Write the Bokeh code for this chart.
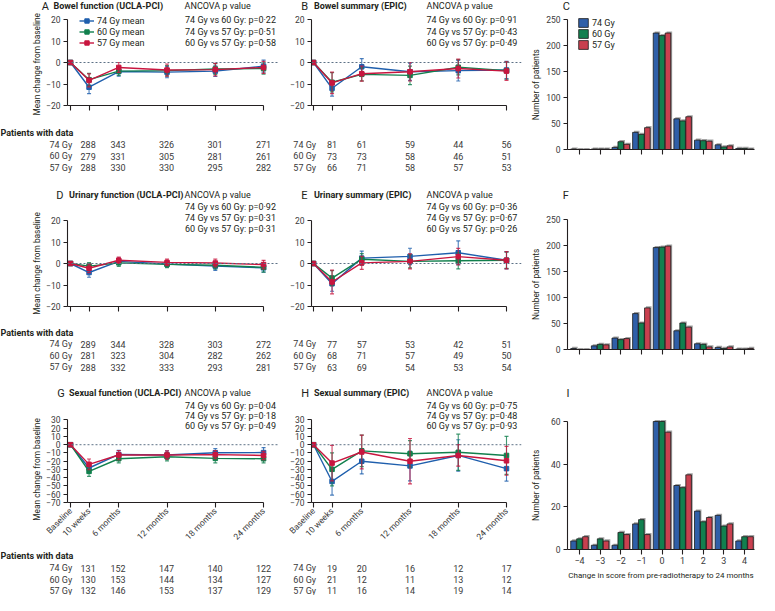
import math
from bokeh.plotting import figure
from bokeh.models import Label, Span, FixedTicker, Legend, LegendItem, Range1d, ColumnDataSource
from bokeh.layouts import row, column
from bokeh.embed import file_html
from bokeh.resources import INLINE
from bokeh.transform import dodge

# ------------------------------------------------------------------ data
weeks = [0, 10, 26, 52, 78, 104]
week_labels = ["Baseline", "10 weeks", "6 months", "12 months", "18 months", "24 months"]
dose_labels = ["74 Gy", "60 Gy", "57 Gy"]

# A  Bowel function (UCLA-PCI)
bowel_func_74 = [0, -11.5, -4.2, -4.5, -4.0, -1.7]
bowel_func_60 = [0, -8.0, -4.0, -3.8, -3.0, -2.8]
bowel_func_57 = [0, -8.3, -2.3, -3.5, -3.3, -2.3]
bowel_func_err_74 = [0, 3.0, 2.2, 2.6, 2.5, 2.8]
bowel_func_err_60 = [0, 2.9, 2.0, 2.4, 2.5, 2.6]
bowel_func_err_57 = [0, 3.0, 2.3, 2.8, 2.9, 2.8]
bowel_func_n_74 = [288, 343, 326, 301, 271]
bowel_func_n_60 = [279, 331, 305, 281, 261]
bowel_func_n_57 = [288, 330, 330, 295, 282]
bowel_func_p = ["0·22", "0·51", "0·58"]

# B  Bowel summary (EPIC)
bowel_sum_74 = [0, -12.0, -2.0, -4.3, -3.8, -3.5]
bowel_sum_60 = [0, -9.2, -5.5, -6.0, -2.2, -3.8]
bowel_sum_57 = [0, -9.5, -5.2, -4.3, -2.8, -4.0]
bowel_sum_err_74 = [0, 3.6, 3.8, 4.0, 4.8, 4.0]
bowel_sum_err_60 = [0, 4.5, 3.0, 4.3, 3.6, 4.0]
bowel_sum_err_57 = [0, 5.0, 3.5, 4.3, 4.4, 4.3]
bowel_sum_n_74 = [81, 61, 59, 44, 56]
bowel_sum_n_60 = [73, 73, 58, 46, 51]
bowel_sum_n_57 = [66, 71, 58, 57, 53]
bowel_sum_p = ["0·91", "0·43", "0·49"]

# D  Urinary function (UCLA-PCI)
urin_func_74 = [0, -4.2, 1.0, -0.2, -1.2, -2.0]
urin_func_60 = [0, -1.2, 0.3, -0.4, -0.8, -1.8]
urin_func_57 = [0, -2.2, 1.5, 0.5, 0.2, -0.5]
urin_func_err_74 = [0, 2.2, 1.5, 1.5, 2.0, 2.0]
urin_func_err_60 = [0, 1.6, 1.6, 1.5, 1.8, 2.2]
urin_func_err_57 = [0, 2.0, 1.5, 1.5, 1.8, 2.0]
urin_func_n_74 = [289, 344, 328, 303, 272]
urin_func_n_60 = [281, 323, 304, 282, 262]
urin_func_n_57 = [288, 332, 333, 293, 281]
urin_func_p = ["0·92", "0·31", "0·31"]

# E  Urinary summary (EPIC)
urin_sum_74 = [0, -9.4, 2.5, 3.3, 5.0, 1.5]
urin_sum_60 = [0, -6.8, 2.0, 1.0, 1.3, 1.5]
urin_sum_57 = [0, -8.6, 0.3, 1.0, 3.2, 1.5]
urin_sum_err_74 = [0, 3.5, 3.3, 3.8, 5.5, 4.0]
urin_sum_err_60 = [0, 3.5, 2.6, 3.0, 3.8, 3.8]
urin_sum_err_57 = [0, 5.5, 3.0, 3.5, 3.8, 4.0]
urin_sum_n_74 = [77, 57, 53, 42, 51]
urin_sum_n_60 = [68, 71, 57, 49, 50]
urin_sum_n_57 = [63, 69, 54, 53, 54]
urin_sum_p = ["0·36", "0·67", "0·26"]

# G  Sexual function (UCLA-PCI)
sex_func_74 = [0, -28.2, -11.8, -12.5, -9.8, -9.5]
sex_func_60 = [0, -32.3, -17.0, -14.5, -16.5, -17.0]
sex_func_57 = [0, -23.8, -12.5, -12.5, -12.0, -13.0]
sex_func_err_74 = [0, 5.5, 5.0, 5.0, 5.0, 6.0]
sex_func_err_60 = [0, 6.0, 5.0, 5.0, 5.5, 5.0]
sex_func_err_57 = [0, 6.5, 5.5, 5.0, 5.0, 5.0]
sex_func_n_74 = [131, 152, 147, 140, 122]
sex_func_n_60 = [130, 153, 144, 134, 127]
sex_func_n_57 = [132, 146, 153, 137, 129]
sex_func_p = ["0·04", "0·18", "0·49"]

# H  Sexual summary (EPIC)
sex_sum_74 = [0, -44.5, -20.0, -25.7, -13.0, -29.0]
sex_sum_60 = [0, -29.8, -7.5, -11.0, -9.2, -13.0]
sex_sum_57 = [0, -22.3, -8.8, -20.0, -13.0, -19.5]
sex_sum_err_74 = [0, 16.5, 15.4, 18.0, 19.0, 15.0]
sex_sum_err_60 = [0, 20.0, 19.0, 16.0, 22.0, 23.0]
sex_sum_err_57 = [0, 21.5, 20.5, 27.5, 13.0, 17.5]
sex_sum_n_74 = [19, 20, 16, 12, 17]
sex_sum_n_60 = [21, 12, 11, 13, 12]
sex_sum_n_57 = [11, 16, 14, 19, 14]
sex_sum_p = ["0·75", "0·48", "0·93"]

# C / F / I  change in score from pre-radiotherapy to 24 months
score_change = [-4, -3, -2, -1, 0, 1, 2, 3, 4]
score_labels = ["−4", "−3", "−2", "−1", "0", "1", "2", "3", "4"]
bowel_hist_74 = [1, 1, 4, 33, 224, 59, 18, 9, 2]
bowel_hist_60 = [0, 1, 15, 29, 219, 55, 17, 5, 2]
bowel_hist_57 = [0, 1, 10, 42, 224, 63, 16, 7, 1]
urin_hist_74 = [2, 7, 22, 69, 196, 36, 11, 4, 1]
urin_hist_60 = [0, 10, 19, 51, 197, 51, 10, 2, 1]
urin_hist_57 = [0, 9, 21, 80, 199, 43, 5, 5, 2]
sex_hist_74 = [4, 2, 2, 12, 60, 30, 18, 16, 4]
sex_hist_60 = [5, 5, 8, 14, 60, 29, 13, 11, 6]
sex_hist_57 = [6, 4, 7, 7, 55, 35, 15, 12, 6]

# ------------------------------------------------------------------ style / geometry
SX = 759 / 775
SY = 595 / 611
FONT = "Roboto"
TXT = "#231f20"
TICK_TXT = "#3a3a3a"
LINE_COLORS = ["#1f5fad", "#11804d", "#c8163f"]
BAR_COLORS = ["#2f5fa8", "#12804f", "#c9404f"]

COLS = [(0, 290), (290, 540), (540, 775)]
ROWSPEC = [
    dict(top=0, plot=12.5, line_axtop=20, line_axbot=108, table=118, bottom=188,
         bar_axtop=20, bar_axbot=153),
    dict(top=188, plot=206, line_axtop=226, line_axbot=314, table=324, bottom=388,
         bar_axtop=225, bar_axbot=358),
    dict(top=388, plot=412, line_axtop=433, line_axbot=530, table=563, bottom=611,
         bar_axtop=432, bar_axbot=564),
]
AXIS_X = [(70, 269), (320, 517)]
TITLE_Y = [6, 200, 403.5]
ANCOVA_Y = [[6, 20, 32, 43.5], [200, 212, 223.5, 235], [403.5, 417.5, 429, 440.5]]
PAT_Y = [[136, 148, 160, 171.5], [341, 353, 365, 376.5], [570, 583, 595, 606]]
LETTER_X = [[42, 307], [57, 307], [58, 307]]
TITLE_X = [[54, 320], [70, 320], [70, 320]]
ANCOVA_X = [188, 435]
ROWLAB_X = [50, 299]
YLAB_W = 44          # ref px width of the strip holding the rotated y label (col 0)
BAR_YLAB_X = 554     # ref px right edge of the strip holding the bar y label
PADL, PADR = 1.5, 8.0


def P(x):
    return round(x * SX)


def Q(y):
    return round(y * SY)


def txt(p, x, y, s, size="9px", bold=False, align="left", color=TXT, angle=0.0):
    p.add_layout(Label(x=x, y=y, text=s, text_font=FONT, text_font_size=size,
                       text_font_style="bold" if bold else "normal", angle=angle,
                       text_align=align, text_baseline="middle", text_color=color))


def minus(t):
    return ("−" + str(-t)) if t < 0 else str(t)


def text_fig(x0, x1, y0, y1, xr=None):
    X0, X1 = P(x0), P(x1)
    Y0, Y1 = Q(y0), Q(y1)
    f = figure(width=X1 - X0, height=Y1 - Y0,
               x_range=Range1d(*(xr if xr else (X0, X1))), y_range=Range1d(-Y1, -Y0),
               x_axis_type=None, y_axis_type=None, min_border=0, title=None,
               output_backend="svg", toolbar_location=None)
    f.outline_line_color = None
    return f


def ylabel_fig(x0, x1, y0, y1, text, xc, yc):
    f = text_fig(x0, x1, y0, y1)
    txt(f, xc * SX, -yc * SY, text, size="8.3px", align="center", angle=math.pi / 2)
    return f


def style_axes(p):
    for ax in p.axis:
        ax.axis_line_color = TXT
        ax.axis_line_width = 1.1
        ax.major_tick_line_color = TXT
        ax.major_tick_line_width = 1.1
        ax.major_tick_in = 0
        ax.major_tick_out = 4
        ax.minor_tick_line_color = None
        ax.major_label_text_font = FONT
        ax.major_label_text_font_size = "8.5px"
        ax.major_label_text_color = TICK_TXT
        ax.major_label_standoff = 3
        ax.axis_label_text_font = FONT
        ax.axis_label_text_font_size = "8.5px"
        ax.axis_label_text_font_style = "normal"
        ax.axis_label_text_color = TXT
    p.xgrid.grid_line_color = None
    p.ygrid.grid_line_color = None
    p.outline_line_color = None


def line_column(ri, ci, letter, title, means, errs, counts, pvals, ylim, yticks,
                ylabel=False, xlabels=False, legend=False):
    rs = ROWSPEC[ri]
    cx = COLS[ci]
    ax0, ax1 = AXIS_X[ci]
    k = (ax1 - ax0) / 104
    X0, X1 = P(cx[0]), P(cx[1])
    A0, A1 = P(ax0), P(ax1)
    pxpu = (A1 - A0) / 104.0

    # ---- header (panel letter, title, first ANCOVA line)
    hdr = text_fig(cx[0], cx[1], rs["top"], rs["plot"])
    ty = -TITLE_Y[ri] * SY
    txt(hdr, LETTER_X[ri][ci] * SX, ty, letter, size="11px")
    txt(hdr, TITLE_X[ri][ci] * SX, ty, title, size="9px", bold=True)
    txt(hdr, ANCOVA_X[ci] * SX, -ANCOVA_Y[ri][0] * SY, "ANCOVA p value", size="9px")

    # ---- plot
    PL = P(cx[0] + YLAB_W) if ylabel else X0
    FL, FR = P(ax0 - PADL * k), P(ax1 + PADR * k)
    FT, FB = Q(rs["plot"]), Q(rs["line_axbot"])
    YT = Q(rs["line_axtop"])
    ymin, ymax = ylim
    ypx = (FB - YT) / (ymax - ymin)
    xr = ((FL - A0) / pxpu, 104 + (FR - A1) / pxpu)
    yr = (ymin, ymin + (FB - FT) / ypx)
    p = figure(width=X1 - PL, height=Q(rs["table"]) - FT,
               min_border_left=FL - PL, min_border_right=X1 - FR,
               min_border_top=0, min_border_bottom=Q(rs["table"]) - FB,
               x_range=Range1d(*xr), y_range=Range1d(*yr), title=None,
               output_backend="svg", toolbar_location=None)
    style_axes(p)
    p.xaxis.ticker = FixedTicker(ticks=weeks)
    p.xaxis.bounds = (xr[0], 104)
    p.xaxis.major_tick_out = 5
    if xlabels:
        p.xaxis.major_label_overrides = dict(zip(weeks, week_labels))
        p.xaxis.major_label_orientation = math.pi / 4
        p.xaxis.major_label_standoff = 2
        p.xaxis.major_label_text_font_size = "8.5px"
    else:
        p.xaxis.major_label_overrides = {w: "" for w in weeks}
    p.yaxis.ticker = FixedTicker(ticks=yticks)
    p.yaxis.bounds = (ymin, ymax)
    p.yaxis.major_label_overrides = {t: minus(t) for t in yticks}

    def dx(xref):
        return (xref * SX - A0) / pxpu

    def dy(yref):
        return ymin + (FB - yref * SY) / ypx

    p.add_layout(Span(location=0, dimension="width", line_color="#5d7186",
                      line_dash="2 2", line_width=1))

    items = []
    for m, e, c, lab in zip(means, errs, LINE_COLORS, dose_labels):
        xs = weeks[1:]
        lo = [m[i] - e[i] for i in range(1, 6)]
        hi = [m[i] + e[i] for i in range(1, 6)]
        p.segment(xs, lo, xs, hi, line_color=c, line_width=1.1, line_alpha=0.8)
        p.scatter(xs, lo, marker="dash", size=4, line_color=c, line_width=1.2, line_alpha=0.8)
        p.scatter(xs, hi, marker="dash", size=4, line_color=c, line_width=1.2, line_alpha=0.8)
        lr = p.line(weeks, m, line_color=c, line_width=1.4)
        sr = p.scatter(weeks, m, marker="square", size=4.5, color=c)
        items.append(LegendItem(label=lab + " mean", renderers=[lr, sr]))

    if legend:
        lg = Legend(items=items, location=(P(80) - FL, FB - Q(49.5)), label_text_font=FONT,
                    label_text_font_size="9px", label_text_color=TXT,
                    glyph_width=15, glyph_height=11, label_height=11, spacing=0,
                    padding=0, margin=0, label_standoff=3, border_line_color=None,
                    background_fill_alpha=0)
        p.add_layout(lg)

    lines = ["74 Gy vs 60 Gy: p=" + pvals[0],
             "74 Gy vs 57 Gy: p=" + pvals[1],
             "60 Gy vs 57 Gy: p=" + pvals[2]]
    for j, s in enumerate(lines):
        txt(p, dx(ANCOVA_X[ci]), dy(ANCOVA_Y[ri][j + 1]), s, size="9px")

    if ylabel:
        yc = (rs["line_axtop"] + rs["line_axbot"]) / 2 + (1.5 if ri == 0 else 0)
        ylf = ylabel_fig(cx[0], cx[0] + YLAB_W, rs["plot"], rs["table"],
                         "Mean change from baseline", 37, yc)
        mid = row(ylf, row(p))
    else:
        mid = row(p)

    # ---- patients table (x in weeks, same scale as the plot)
    tab_xr = ((X0 - A0) / pxpu, 104 + (X1 - A1) / pxpu)
    tab = text_fig(cx[0], cx[1], rs["table"], rs["bottom"], xr=tab_xr)
    if ci == 0:
        txt(tab, dx(0), -PAT_Y[ri][0] * SY, "Patients with data", size="9px", bold=True)
    for j, (lab, cnt) in enumerate(zip(dose_labels, counts)):
        y = -PAT_Y[ri][j + 1] * SY
        txt(tab, dx(ROWLAB_X[ci]), y, lab, size="9px", color=TICK_TXT)
        for w, n in zip(weeks[1:], cnt):
            txt(tab, w, y, str(n), size="9px", align="center", color=TICK_TXT)
    return column(hdr, mid, tab)


def bar_column(ri, letter, letter_x, v74, v60, v57, ymax, yticks, xlabels=False, legend=False):
    rs = ROWSPEC[ri]
    cx = COLS[2]
    X1 = P(cx[1])
    hdr = text_fig(cx[0], cx[1], rs["top"], rs["plot"])
    txt(hdr, letter_x * SX, -TITLE_Y[ri] * SY, letter, size="11px")

    PL = P(BAR_YLAB_X)
    FL, FR = P(579), P(770)
    FT, FB = Q(rs["plot"]), Q(rs["bar_axbot"])
    YT = Q(rs["bar_axtop"])
    B0, B1 = P(591), P(760)
    xpu = (B1 - B0) / 8.0
    xr = (-4 + (FL - B0) / xpu, 4 + (FR - B1) / xpu)
    ypx = (FB - YT) / ymax
    yr = (0, (FB - FT) / ypx)
    p = figure(width=X1 - PL, height=Q(rs["bottom"]) - FT,
               min_border_left=FL - PL, min_border_right=X1 - FR,
               min_border_top=0, min_border_bottom=Q(rs["bottom"]) - FB,
               x_range=Range1d(*xr), y_range=Range1d(*yr), title=None,
               output_backend="svg", toolbar_location=None)
    style_axes(p)
    p.xaxis.ticker = FixedTicker(ticks=score_change)
    p.xaxis.major_tick_out = 5
    if xlabels:
        p.xaxis.major_label_overrides = dict(zip(score_change, score_labels))
        p.xaxis.major_label_text_font_size = "9px"
        p.xaxis.axis_label = "Change in score from pre-radiotherapy to 24 months"
        p.xaxis.axis_label_text_font_size = "8px"
        p.xaxis.axis_label_standoff = 4
        p.xaxis.major_label_standoff = 2
    else:
        p.xaxis.major_label_overrides = {c: "" for c in score_change}
    p.yaxis.ticker = FixedTicker(ticks=yticks)
    p.yaxis.bounds = (0, ymax)

    sh = 1.6 / ypx
    shx = 1.4 / xpu
    src = ColumnDataSource(dict(x=score_change, v74=v74, v60=v60, v57=v57,
                                s74=[v + sh for v in v74], s60=[v + sh for v in v60],
                                s57=[v + sh for v in v57]))
    offs = [-0.29, 0.0, 0.29]
    W = 0.27
    for key, off in zip(["s74", "s60", "s57"], offs):
        p.vbar(x=dodge("x", off + shx, range=p.x_range), top=key, bottom=0, width=W,
               source=src, fill_color="#a3a3a3", line_color=None)
    items = []
    for key, off, c, lab in zip(["v74", "v60", "v57"], offs, BAR_COLORS, dose_labels):
        r = p.vbar(x=dodge("x", off, range=p.x_range), top=key, bottom=0, width=W,
                   source=src, fill_color=c, line_color="#1b1b1b", line_width=0.8)
        items.append(LegendItem(label=lab, renderers=[r]))
    if legend:
        lg = Legend(items=items, location=(P(589.5) - FL, FB - Q(51.5)), label_text_font=FONT,
                    label_text_font_size="9px", label_text_color=TXT,
                    glyph_width=12, glyph_height=11, label_height=11, spacing=0,
                    padding=0, margin=0, label_standoff=3, border_line_color=None,
                    background_fill_alpha=0)
        p.add_layout(lg)

    yc = (rs["bar_axtop"] + rs["bar_axbot"]) / 2
    ylf = ylabel_fig(cx[0], BAR_YLAB_X, rs["plot"], rs["bottom"], "Number of patients", 547, yc)
    return column(hdr, row(ylf, row(p)))


colA = line_column(0, 0, "A", "Bowel function (UCLA-PCI)",
                   [bowel_func_74, bowel_func_60, bowel_func_57],
                   [bowel_func_err_74, bowel_func_err_60, bowel_func_err_57],
                   [bowel_func_n_74, bowel_func_n_60, bowel_func_n_57], bowel_func_p,
                   (-20, 20), [-20, -10, 0, 10, 20], ylabel=True, legend=True)
colB = line_column(0, 1, "B", "Bowel summary (EPIC)",
                   [bowel_sum_74, bowel_sum_60, bowel_sum_57],
                   [bowel_sum_err_74, bowel_sum_err_60, bowel_sum_err_57],
                   [bowel_sum_n_74, bowel_sum_n_60, bowel_sum_n_57], bowel_sum_p,
                   (-20, 20), [-20, -10, 0, 10, 20])
colC = bar_column(0, "C", 574, bowel_hist_74, bowel_hist_60, bowel_hist_57, 250,
                  [0, 50, 100, 150, 200, 250], legend=True)
colD = line_column(1, 0, "D", "Urinary function (UCLA-PCI)",
                   [urin_func_74, urin_func_60, urin_func_57],
                   [urin_func_err_74, urin_func_err_60, urin_func_err_57],
                   [urin_func_n_74, urin_func_n_60, urin_func_n_57], urin_func_p,
                   (-20, 20), [-20, -10, 0, 10, 20], ylabel=True)
colE = line_column(1, 1, "E", "Urinary summary (EPIC)",
                   [urin_sum_74, urin_sum_60, urin_sum_57],
                   [urin_sum_err_74, urin_sum_err_60, urin_sum_err_57],
                   [urin_sum_n_74, urin_sum_n_60, urin_sum_n_57], urin_sum_p,
                   (-20, 20), [-20, -10, 0, 10, 20])
colF = bar_column(1, "F", 574, urin_hist_74, urin_hist_60, urin_hist_57, 250,
                  [0, 50, 100, 150, 200, 250])
g_ticks = [-70, -60, -50, -40, -30, -20, -10, 0, 10, 20, 30]
colG = line_column(2, 0, "G", "Sexual function (UCLA-PCI)",
                   [sex_func_74, sex_func_60, sex_func_57],
                   [sex_func_err_74, sex_func_err_60, sex_func_err_57],
                   [sex_func_n_74, sex_func_n_60, sex_func_n_57], sex_func_p,
                   (-70, 30), g_ticks, ylabel=True, xlabels=True)
colH = line_column(2, 1, "H", "Sexual summary (EPIC)",
                   [sex_sum_74, sex_sum_60, sex_sum_57],
                   [sex_sum_err_74, sex_sum_err_60, sex_sum_err_57],
                   [sex_sum_n_74, sex_sum_n_60, sex_sum_n_57], sex_sum_p,
                   (-70, 30), g_ticks, xlabels=True)
colI = bar_column(2, "I", 578, sex_hist_74, sex_hist_60, sex_hist_57, 60,
                  [0, 20, 40, 60], xlabels=True)

layout = column(row(colA, colB, colC), row(colD, colE, colF), row(colG, colH, colI))

open("out.html", "w").write(file_html(layout, INLINE))
